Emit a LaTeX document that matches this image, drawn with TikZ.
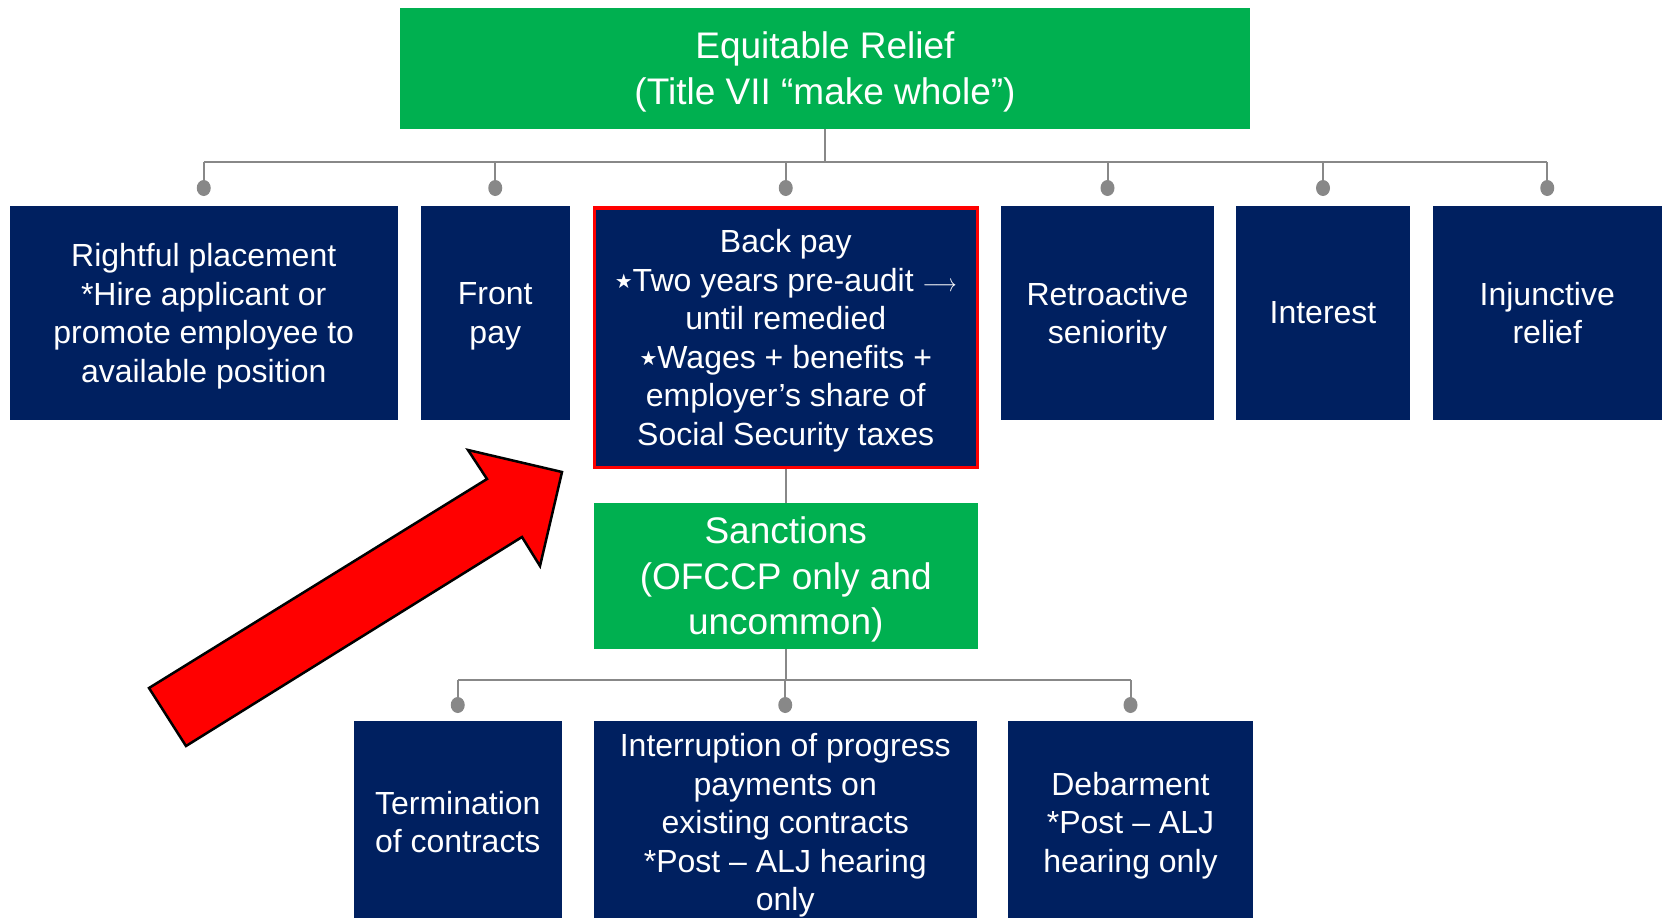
\documentclass[tikz,border=0pt]{standalone}
\usepackage{fontspec}
\setmainfont{Liberation Sans}
\newfontfamily\dejavu{DejaVu Sans}
\definecolor{navy}{RGB}{0,32,96}
\definecolor{titlegreen}{RGB}{0,176,80}
\definecolor{conngray}{RGB}{136,136,136}
\newcommand{\starbul}{{\dejavu\fontsize{20}{20}\selectfont\raisebox{3pt}{★}}}
\newcommand{\thinarrow}{\scalebox{0.85}[1]{$\longrightarrow$}}

\begin{document}
\begin{tikzpicture}[x=1pt,y=-1pt,
  bluebox/.style 2 args={fill=navy,text=white,align=center,inner sep=0pt,text depth=0pt,
    minimum width=#1pt,minimum height=#2pt,font=\fontsize{32}{38.5}\selectfont},
  greenbox/.style 2 args={fill=titlegreen,text=white,align=center,inner sep=0pt,text depth=0pt,
    minimum width=#1pt,minimum height=#2pt,font=\fontsize{37}{45.5}\selectfont},
  conn/.style={draw=conngray,line width=2pt},
  dotc/.style={fill=conngray}]
\clip (0,0) rectangle (1665,918);

% top level
\node[greenbox={850}{121}] (relief) at (825,68) {Equitable Relief\\(Title VII “make whole”)};

% remedies
\node[bluebox={388.5}{213.5}] (place) at (203.75,312.75) {Rightful placement\\*Hire applicant or\\promote employee to\\available position};
\node[bluebox={149.5}{213.5}] (front) at (495.25,312.75) {Front\\pay};
\node[bluebox={383}{259.5},draw=red,line width=3.5pt] (back) at (785.75,337.5)
  {Back pay\\\starbul Two years pre-audit \thinarrow\\until remedied\\\starbul Wages + benefits +\\employer’s share of\\Social Security taxes};
\node[bluebox={213}{213.5}] (senior) at (1107.5,312.75) {Retroactive\\seniority};
\node[bluebox={174}{213.5}] (interest) at (1323,312.75) {Interest};
\node[bluebox={229.5}{213.5}] (injunct) at (1547.25,312.75) {Injunctive\\relief};

% sanctions
\node[greenbox={384.5}{146}] (sanct) at (785.75,576) {Sanctions\\(OFCCP only and\\uncommon)};
\node[bluebox={208.5}{202}] (termin) at (457.75,822) {Termination\\of contracts};
\node[bluebox={383.5}{202}] (interrupt) at (785.25,822) {Interruption of progress\\payments on\\existing contracts\\*Post – ALJ hearing\\only};
\node[bluebox={245}{202}] (debar) at (1130.5,822) {Debarment\\*Post – ALJ\\hearing only};

% connectors
\coordinate (bus1) at (825,162);
\draw[conn] (relief.south) -- (relief.south |- bus1);
\draw[conn] (place.north |- bus1) -- (injunct.north |- bus1);
\foreach \c in {place,front,back,senior,interest,injunct}{
  \draw[conn] (\c.north |- bus1) -- ++(0,26) coordinate (d\c);
  \fill[dotc] (d\c) circle [x radius=7,y radius=8];
}
\draw[conn] (back.south) -- (sanct.north);
\coordinate (bus2) at (784,680);
\draw[conn] (sanct.south) -- (sanct.south |- bus2);
\draw[conn] (termin.north |- bus2) -- (debar.north |- bus2);
\foreach \c in {termin,interrupt,debar}{
  \draw[conn] (\c.north |- bus2) -- ++(0,25) coordinate (d\c);
  \fill[dotc] (d\c) circle [x radius=7,y radius=8];
}

% red arrow
\draw[fill=red,line width=2.5pt,line join=miter] (149,688) -- (487,479) -- (468,450) -- (562,472)
  -- (540,566) -- (522,537) -- (186,746) -- cycle;
\end{tikzpicture}
\end{document}
